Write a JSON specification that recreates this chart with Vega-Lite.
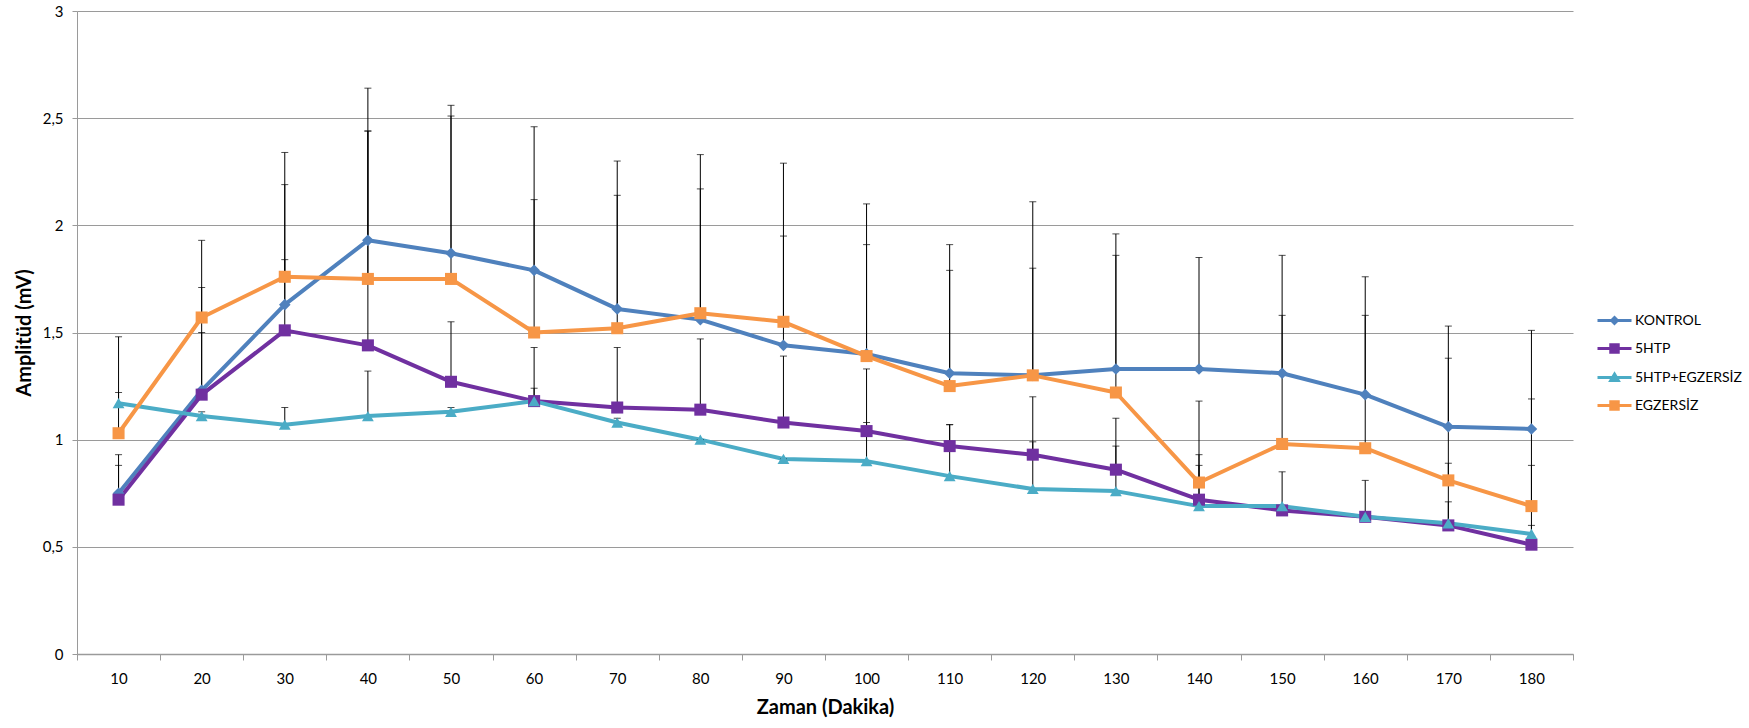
{
  "$schema": "https://vega.github.io/schema/vega-lite/v6.json",
  "width": 1496,
  "height": 643,
  "autosize": {"type": "none"},
  "padding": {"left": 77, "top": 11, "right": 176, "bottom": 74},
  "background": "white",
  "config": {
    "font": "Lato",
    "view": {"stroke": null},
    "axis": {"labelFont": "Lato", "titleFont": "Lato", "labelColor": "#000000", "titleColor": "#000000"}
  },
  "data": {
    "values": [
      {"Zaman": 10, "Grup": "KONTROL", "Amplitud": 0.75, "Ust": 0.93},
      {"Zaman": 20, "Grup": "KONTROL", "Amplitud": 1.23, "Ust": 1.71},
      {"Zaman": 30, "Grup": "KONTROL", "Amplitud": 1.63, "Ust": 2.34},
      {"Zaman": 40, "Grup": "KONTROL", "Amplitud": 1.93, "Ust": 2.64},
      {"Zaman": 50, "Grup": "KONTROL", "Amplitud": 1.87, "Ust": 2.56},
      {"Zaman": 60, "Grup": "KONTROL", "Amplitud": 1.79, "Ust": 2.46},
      {"Zaman": 70, "Grup": "KONTROL", "Amplitud": 1.61, "Ust": 2.30},
      {"Zaman": 80, "Grup": "KONTROL", "Amplitud": 1.56, "Ust": 2.17},
      {"Zaman": 90, "Grup": "KONTROL", "Amplitud": 1.44, "Ust": 1.95},
      {"Zaman": 100, "Grup": "KONTROL", "Amplitud": 1.40, "Ust": 2.10},
      {"Zaman": 110, "Grup": "KONTROL", "Amplitud": 1.31, "Ust": 1.91},
      {"Zaman": 120, "Grup": "KONTROL", "Amplitud": 1.30, "Ust": 1.80},
      {"Zaman": 130, "Grup": "KONTROL", "Amplitud": 1.33, "Ust": 1.96},
      {"Zaman": 140, "Grup": "KONTROL", "Amplitud": 1.33, "Ust": 1.85},
      {"Zaman": 150, "Grup": "KONTROL", "Amplitud": 1.31, "Ust": 1.86},
      {"Zaman": 160, "Grup": "KONTROL", "Amplitud": 1.21, "Ust": 1.76},
      {"Zaman": 170, "Grup": "KONTROL", "Amplitud": 1.06, "Ust": 1.53},
      {"Zaman": 180, "Grup": "KONTROL", "Amplitud": 1.05, "Ust": 1.51},

      {"Zaman": 10, "Grup": "5HTP", "Amplitud": 0.72, "Ust": 0.88},
      {"Zaman": 20, "Grup": "5HTP", "Amplitud": 1.21, "Ust": 1.50},
      {"Zaman": 30, "Grup": "5HTP", "Amplitud": 1.51, "Ust": 1.84},
      {"Zaman": 40, "Grup": "5HTP", "Amplitud": 1.44, "Ust": 2.44},
      {"Zaman": 50, "Grup": "5HTP", "Amplitud": 1.27, "Ust": 1.55},
      {"Zaman": 60, "Grup": "5HTP", "Amplitud": 1.18, "Ust": 1.43},
      {"Zaman": 70, "Grup": "5HTP", "Amplitud": 1.15, "Ust": 1.43},
      {"Zaman": 80, "Grup": "5HTP", "Amplitud": 1.14, "Ust": 1.47},
      {"Zaman": 90, "Grup": "5HTP", "Amplitud": 1.08, "Ust": 1.39},
      {"Zaman": 100, "Grup": "5HTP", "Amplitud": 1.04, "Ust": 1.33},
      {"Zaman": 110, "Grup": "5HTP", "Amplitud": 0.97, "Ust": 1.07},
      {"Zaman": 120, "Grup": "5HTP", "Amplitud": 0.93, "Ust": 1.20},
      {"Zaman": 130, "Grup": "5HTP", "Amplitud": 0.86, "Ust": 1.10},
      {"Zaman": 140, "Grup": "5HTP", "Amplitud": 0.72, "Ust": 0.93},
      {"Zaman": 150, "Grup": "5HTP", "Amplitud": 0.67, "Ust": 0.85},
      {"Zaman": 160, "Grup": "5HTP", "Amplitud": 0.64, "Ust": 0.81},
      {"Zaman": 170, "Grup": "5HTP", "Amplitud": 0.60, "Ust": 0.71},
      {"Zaman": 180, "Grup": "5HTP", "Amplitud": 0.51, "Ust": 0.60},

      {"Zaman": 10, "Grup": "5HTP+EGZERSİZ", "Amplitud": 1.17, "Ust": 1.22},
      {"Zaman": 20, "Grup": "5HTP+EGZERSİZ", "Amplitud": 1.11, "Ust": 1.13},
      {"Zaman": 30, "Grup": "5HTP+EGZERSİZ", "Amplitud": 1.07, "Ust": 1.15},
      {"Zaman": 40, "Grup": "5HTP+EGZERSİZ", "Amplitud": 1.11, "Ust": 1.32},
      {"Zaman": 50, "Grup": "5HTP+EGZERSİZ", "Amplitud": 1.13, "Ust": 1.15},
      {"Zaman": 60, "Grup": "5HTP+EGZERSİZ", "Amplitud": 1.18, "Ust": 1.24},
      {"Zaman": 70, "Grup": "5HTP+EGZERSİZ", "Amplitud": 1.08, "Ust": 1.10},
      {"Zaman": 80, "Grup": "5HTP+EGZERSİZ", "Amplitud": 1.00, "Ust": 1.00},
      {"Zaman": 90, "Grup": "5HTP+EGZERSİZ", "Amplitud": 0.91, "Ust": 0.91},
      {"Zaman": 100, "Grup": "5HTP+EGZERSİZ", "Amplitud": 0.90, "Ust": 1.08},
      {"Zaman": 110, "Grup": "5HTP+EGZERSİZ", "Amplitud": 0.83, "Ust": 1.07},
      {"Zaman": 120, "Grup": "5HTP+EGZERSİZ", "Amplitud": 0.77, "Ust": 0.99},
      {"Zaman": 130, "Grup": "5HTP+EGZERSİZ", "Amplitud": 0.76, "Ust": 0.97},
      {"Zaman": 140, "Grup": "5HTP+EGZERSİZ", "Amplitud": 0.69, "Ust": 0.88},
      {"Zaman": 150, "Grup": "5HTP+EGZERSİZ", "Amplitud": 0.69, "Ust": 0.69},
      {"Zaman": 160, "Grup": "5HTP+EGZERSİZ", "Amplitud": 0.64, "Ust": 0.64},
      {"Zaman": 170, "Grup": "5HTP+EGZERSİZ", "Amplitud": 0.61, "Ust": 0.89},
      {"Zaman": 180, "Grup": "5HTP+EGZERSİZ", "Amplitud": 0.56, "Ust": 0.88},

      {"Zaman": 10, "Grup": "EGZERSİZ", "Amplitud": 1.03, "Ust": 1.48},
      {"Zaman": 20, "Grup": "EGZERSİZ", "Amplitud": 1.57, "Ust": 1.93},
      {"Zaman": 30, "Grup": "EGZERSİZ", "Amplitud": 1.76, "Ust": 2.19},
      {"Zaman": 40, "Grup": "EGZERSİZ", "Amplitud": 1.75, "Ust": 2.44},
      {"Zaman": 50, "Grup": "EGZERSİZ", "Amplitud": 1.75, "Ust": 2.51},
      {"Zaman": 60, "Grup": "EGZERSİZ", "Amplitud": 1.50, "Ust": 2.12},
      {"Zaman": 70, "Grup": "EGZERSİZ", "Amplitud": 1.52, "Ust": 2.14},
      {"Zaman": 80, "Grup": "EGZERSİZ", "Amplitud": 1.59, "Ust": 2.33},
      {"Zaman": 90, "Grup": "EGZERSİZ", "Amplitud": 1.55, "Ust": 2.29},
      {"Zaman": 100, "Grup": "EGZERSİZ", "Amplitud": 1.39, "Ust": 1.91},
      {"Zaman": 110, "Grup": "EGZERSİZ", "Amplitud": 1.25, "Ust": 1.79},
      {"Zaman": 120, "Grup": "EGZERSİZ", "Amplitud": 1.30, "Ust": 2.11},
      {"Zaman": 130, "Grup": "EGZERSİZ", "Amplitud": 1.22, "Ust": 1.86},
      {"Zaman": 140, "Grup": "EGZERSİZ", "Amplitud": 0.80, "Ust": 1.18},
      {"Zaman": 150, "Grup": "EGZERSİZ", "Amplitud": 0.98, "Ust": 1.58},
      {"Zaman": 160, "Grup": "EGZERSİZ", "Amplitud": 0.96, "Ust": 1.58},
      {"Zaman": 170, "Grup": "EGZERSİZ", "Amplitud": 0.81, "Ust": 1.38},
      {"Zaman": 180, "Grup": "EGZERSİZ", "Amplitud": 0.69, "Ust": 1.19}
    ]
  },
  "encoding": {
    "x": {
      "field": "Zaman", "type": "quantitative",
      "scale": {"domain": [5, 185], "nice": false, "zero": false},
      "axis": {
        "title": "Zaman (Dakika)",
        "values": [5, 15, 25, 35, 45, 55, 65, 75, 85, 95, 105, 115, 125, 135, 145, 155, 165, 175, 185],
        "labelExpr": "datum.value < 185 ? toString(datum.value + 5) : ''",
        "labelOffset": 41.5,
        "labelFlush": false,
        "labelOverlap": false,
        "labelBound": false,
        "grid": false,
        "domainColor": "#9a9a9a",
        "domainWidth": 1.5,
        "tickColor": "#9a9a9a",
        "tickSize": 6,
        "labelFontSize": 15,
        "labelPadding": 11,
        "titleFontSize": 20,
        "titleFontWeight": "bold",
        "titlePadding": 11
      }
    },
    "y": {
      "field": "Amplitud", "type": "quantitative",
      "scale": {"domain": [0, 3], "nice": false},
      "axis": {
        "title": "Amplitüd (mV)",
        "values": [0, 0.5, 1, 1.5, 2, 2.5, 3],
        "labelExpr": "replace(toString(datum.value), '.', ',')",
        "grid": true,
        "gridColor": "#9a9a9a",
        "gridWidth": 1,
        "domainColor": "#9a9a9a",
        "tickColor": "#9a9a9a",
        "tickSize": 5,
        "labelFontSize": 15,
        "labelPadding": 9,
        "titleFontSize": 20,
        "titleFontWeight": "bold",
        "titlePadding": 8
      }
    }
  },
  "layer": [
    {
      "mark": {"type": "line", "strokeWidth": 4, "strokeJoin": "round"},
      "encoding": {
        "color": {
          "field": "Grup", "type": "nominal",
          "scale": {"domain": ["KONTROL", "5HTP", "5HTP+EGZERSİZ", "EGZERSİZ"], "range": ["#4F81BD", "#7030A0", "#4BACC6", "#F79646"]}
        },
        "order": {"field": "Zaman", "type": "quantitative"}
      }
    },
    {
      "mark": {"type": "rule", "color": "#000000", "strokeWidth": 1},
      "encoding": {
        "y2": {"field": "Ust"}
      }
    },
    {
      "mark": {"type": "tick", "orient": "horizontal", "color": "#000000", "size": 7, "thickness": 1},
      "encoding": {
        "y": {"field": "Ust", "type": "quantitative"}
      }
    },
    {
      "transform": [{"filter": "datum.Grup === 'KONTROL'"}],
      "mark": {"type": "point", "shape": "diamond", "filled": true, "opacity": 1, "size": 135},
      "encoding": {"color": {"field": "Grup", "type": "nominal"}}
    },
    {
      "transform": [{"filter": "datum.Grup === '5HTP' || datum.Grup === 'EGZERSİZ'"}],
      "mark": {"type": "point", "shape": "square", "filled": true, "opacity": 1, "size": 145},
      "encoding": {"color": {"field": "Grup", "type": "nominal"}}
    },
    {
      "transform": [{"filter": "datum.Grup === '5HTP+EGZERSİZ'"}],
      "mark": {"type": "point", "shape": "triangle-up", "filled": true, "opacity": 1, "size": 140},
      "encoding": {"color": {"field": "Grup", "type": "nominal"}}
    },
    {
      "mark": {"type": "point", "filled": true, "opacity": 0},
      "encoding": {
        "color": {
          "field": "Grup", "type": "nominal",
          "legend": {
            "title": null,
            "orient": "none",
            "legendX": 1519,
            "legendY": 291,
            "padding": 0,
            "symbolSize": 1156,
            "symbolStrokeWidth": 3,
            "symbolOpacity": 1,
            "labelFont": "Lato",
            "labelFontSize": 14,
            "labelColor": "#000000",
            "labelLimit": 300,
            "labelOffset": 2,
            "rowPadding": 0,
            "encode": {"symbols": {"update": {"stroke": {"scale": "color", "field": "value"}, "strokeWidth": {"value": 3}, "opacity": {"value": 1}}}}
          }
        },
        "shape": {
          "field": "Grup", "type": "nominal",
          "scale": {
            "domain": ["KONTROL", "5HTP", "5HTP+EGZERSİZ", "EGZERSİZ"],
            "range": [
              "M-1,0H1M0,-0.17L0.17,0L0,0.17L-0.17,0Z",
              "M-1,0H1M-0.22,-0.22H0.22V0.22H-0.22Z",
              "M-1,0H1M0,-0.2L0.22,0.17H-0.22Z",
              "M-1,0H1M-0.22,-0.22H0.22V0.22H-0.22Z"
            ]
          },
          "legend": {"title": null}
        }
      }
    }
  ]
}
